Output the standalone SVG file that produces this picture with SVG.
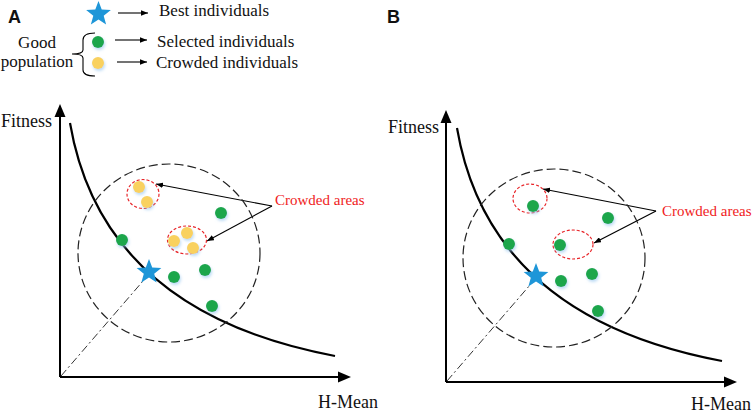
<svg xmlns="http://www.w3.org/2000/svg" xmlns:xlink="http://www.w3.org/1999/xlink" width="754" height="413" viewBox="0 0 754 413">
<defs>
<style>
.t{font-family:"Times New Roman","Liberation Serif","Tinos","DejaVu Serif",serif;fill:#111}
.lbl{font-family:"Liberation Sans",Arial,sans-serif;font-weight:bold;font-size:18px;fill:#111}
.red{font-family:"Times New Roman","Liberation Serif","Tinos","DejaVu Serif",serif;font-size:15px;fill:#f01c1c}
.axis{stroke:#000;stroke-width:2;fill:none}
.head{fill:#000}
.curve{stroke:#000;stroke-width:2.2;fill:none}
.circ{stroke:#222;stroke-width:1.2;fill:none;stroke-dasharray:9 4}
.dd{stroke:#333;stroke-width:1;fill:none;stroke-dasharray:8 3 2 3}
.area{stroke:#e8262a;stroke-width:1.2;fill:none;stroke-dasharray:3 2}
.arr{stroke:#000;stroke-width:1.1;fill:none}
.g{fill:#1ca64c;filter:url(#sh)}
.y{fill:#f9d15e;filter:url(#sh)}
.s{fill:#1e96d8}
</style>
<filter id="sh" x="-60%" y="-60%" width="220%" height="220%">
<feDropShadow dx="1" dy="2" stdDeviation="1.5" flood-color="#8fc2ee" flood-opacity="0.6"/>
</filter>
<polygon id="star" points="0,-13 3.21,-4.42 12.36,-4.02 5.19,1.69 7.64,10.52 0,5.46 -7.64,10.52 -5.19,1.69 -12.36,-4.02 -3.21,-4.42"/>
<marker id="ah" viewBox="0 0 10 8" refX="10" refY="4" markerWidth="7" markerHeight="5.6" markerUnits="userSpaceOnUse" orient="auto">
<path d="M0,0 L10,4 L0,8 Z" fill="#000"/>
</marker>
</defs>

<g id="legend">
<text class="lbl" x="8" y="23">A</text>
<use href="#star" class="s" x="98.5" y="14"/>
<circle class="g" cx="98" cy="42" r="6"/>
<circle class="y" cx="98" cy="63" r="6"/>
<path class="arr" d="M95,33 Q83,33 83,40 L83,50 Q83,54 72,54 Q83,54 83,58 L83,70 Q83,76 95,76"/>
<text class="t" font-size="17" x="37" y="48" text-anchor="middle">Good</text>
<text class="t" font-size="17" x="37" y="67" text-anchor="middle">population</text>
<text class="t" font-size="17" x="159" y="16">Best individuals</text>
<text class="t" font-size="17" x="157" y="47">Selected individuals</text>
<text class="t" font-size="17" x="156" y="68">Crowded individuals</text>
</g>

<g id="connectors">
<line class="arr" x1="118" y1="13" x2="148" y2="13" marker-end="url(#ah)"/>
<line class="arr" x1="115" y1="40" x2="147" y2="40" marker-end="url(#ah)"/>
<line class="arr" x1="117" y1="62" x2="147" y2="62" marker-end="url(#ah)"/>
<line class="arr" x1="272" y1="206" x2="156" y2="184" marker-end="url(#ah)"/>
<line class="arr" x1="272" y1="206" x2="207" y2="241" marker-end="url(#ah)"/>
<line class="arr" x1="656" y1="211" x2="543" y2="189" marker-end="url(#ah)"/>
<line class="arr" x1="656" y1="211" x2="594" y2="243" marker-end="url(#ah)"/>
</g>

<g id="panelA">
<path class="axis" d="M60,377 L60,116"/>
<polygon class="head" points="60,104 65.5,117 54.5,117"/>
<path class="axis" d="M60,377 L338,377"/>
<polygon class="head" points="351,377 338,371.5 338,382.5"/>
<text class="t" font-size="18" x="1" y="127">Fitness</text>
<text class="t" font-size="18" x="318" y="408">H-Mean</text>
<path class="curve" d="M70,123 C90,240 170,325 335,356"/>
<ellipse class="circ" cx="169" cy="253" rx="91" ry="89"/>
<line class="dd" x1="61" y1="376" x2="143" y2="281"/>
<ellipse class="area" cx="143" cy="194" rx="16" ry="14.5"/>
<ellipse class="area" cx="187" cy="240" rx="19.5" ry="14"/>
<circle class="y" cx="139" cy="187" r="6"/>
<circle class="y" cx="147" cy="202" r="6"/>
<circle class="y" cx="174" cy="241" r="6"/>
<circle class="y" cx="187" cy="233" r="6"/>
<circle class="y" cx="193" cy="248" r="6"/>
<circle class="g" cx="221" cy="213" r="6"/>
<circle class="g" cx="122" cy="240" r="6"/>
<circle class="g" cx="174" cy="277" r="6"/>
<circle class="g" cx="205" cy="270" r="6"/>
<circle class="g" cx="212" cy="306" r="6"/>
<use href="#star" class="s" x="149" y="272"/>
<text class="red" x="275" y="205">Crowded areas</text>
</g>

<g id="panelB">
<text class="lbl" x="387" y="23">B</text>
<path class="axis" d="M446,382 L446,122"/>
<polygon class="head" points="446,110 451.5,123 440.5,123"/>
<path class="axis" d="M446,382 L724,382"/>
<polygon class="head" points="737,382 724,376.5 724,387.5"/>
<text class="t" font-size="18" x="388" y="133">Fitness</text>
<text class="t" font-size="18" x="691" y="410">H-Mean</text>
<path class="curve" d="M457,128 C477,245 557,330 722,361"/>
<ellipse class="circ" cx="554" cy="258" rx="91" ry="89"/>
<line class="dd" x1="447" y1="381" x2="530" y2="285"/>
<ellipse class="area" cx="530" cy="198.5" rx="17" ry="14.5"/>
<ellipse class="area" cx="573" cy="244.5" rx="20" ry="14.5"/>
<circle class="g" cx="533" cy="206" r="6"/>
<circle class="g" cx="560" cy="245" r="6"/>
<circle class="g" cx="608" cy="218" r="6"/>
<circle class="g" cx="509" cy="244" r="6"/>
<circle class="g" cx="561" cy="281" r="6"/>
<circle class="g" cx="592" cy="274" r="6"/>
<circle class="g" cx="598" cy="311" r="6"/>
<use href="#star" class="s" x="536" y="276"/>
<text class="red" x="662" y="216">Crowded areas</text>
</g>
</svg>
